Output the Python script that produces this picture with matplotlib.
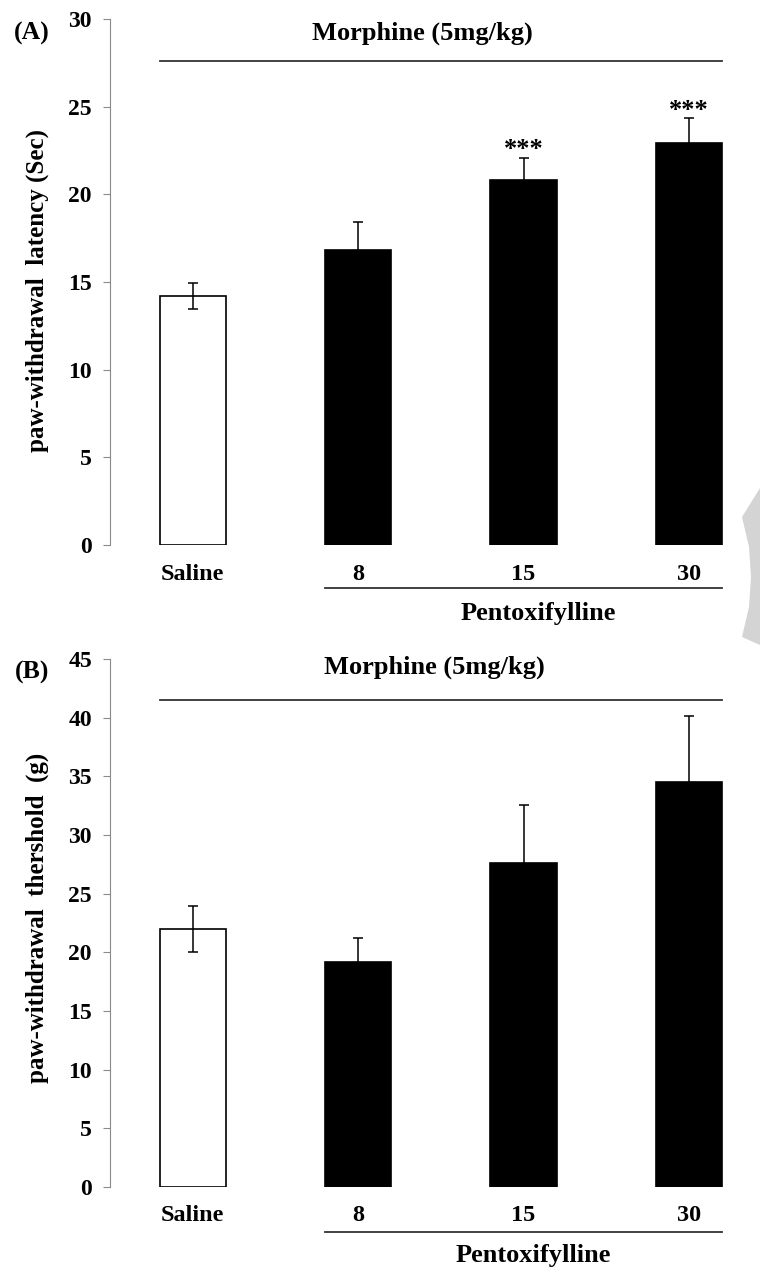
import matplotlib
matplotlib.use('Agg')
import matplotlib.pyplot as plt
from matplotlib.patches import Polygon

# data
groups = ['Saline', '8', '15', '30']
bar_colors = ['white', 'black', 'black', 'black']
latency_mean = [14.2, 16.8, 20.8, 22.9]
latency_sem = [0.73, 1.65, 1.3, 1.45]
latency_sig = ['', '', '***', '***']
threshold_mean = [22.0, 19.15, 27.6, 34.5]
threshold_sem = [1.95, 2.05, 4.95, 5.6]
threshold_sig = ['', '', '', '']

plt.rcParams['font.family'] = ['Liberation Serif', 'DejaVu Serif']
plt.rcParams['font.weight'] = 'bold'

W, H = 760, 1268
fig = plt.figure(figsize=(W / 100, H / 100), dpi=100)


def box(x0, y0, x1, y1):
    """ pixel box (top-left origin) -> figure fraction rect """
    return [x0 / W, 1 - y1 / H, (x1 - x0) / W, (y1 - y0) / H]


def panel(rect, means, sems, sig, ymax, title_y, title_x, morph_y, pent_line_y,
          pent_y, pent_x, pad):
    ax = fig.add_axes(rect)
    x = list(range(len(groups)))
    ax.bar(x, means, width=0.4, color=bar_colors, edgecolor='black',
           linewidth=1.2, zorder=2)
    ax.errorbar(x, means, yerr=sems, fmt='none', ecolor='black',
                elinewidth=1.1, capsize=3.5, capthick=1.1, zorder=3)
    for i in x:
        if sig[i]:
            ax.text(i, means[i] + sems[i] + ymax * 0.002, sig[i], ha='center',
                    va='baseline', fontsize=19)
    ax.set_xlim(-0.5, 3.3)
    ax.set_ylim(0, ymax)
    ax.set_yticks(range(0, ymax + 1, 5))
    ax.set_xticks(x)
    ax.set_xticklabels(groups, fontsize=17.5)
    for s in ['top', 'right', 'bottom']:
        ax.spines[s].set_visible(False)
    ax.spines['left'].set_color('#8a8a8a')
    ax.tick_params(axis='y', direction='out', length=5, color='#8a8a8a',
                   labelsize=17, pad=8)
    ax.tick_params(axis='x', length=0, pad=pad)
    # group lines and labels
    ax.plot([-0.2, 3.2], [morph_y, morph_y], color='#333333', lw=1.3,
            clip_on=False)
    ax.text(title_x, title_y, 'Morphine (5mg/kg)', ha='center', va='center',
            fontsize=19)
    ax.plot([0.8, 3.2], [pent_line_y, pent_line_y], color='#333333', lw=1.3,
            clip_on=False)
    ax.text(pent_x, pent_y, 'Pentoxifylline', ha='center', va='center',
            fontsize=19)
    return ax


axA = panel(box(110, 19, 738.6, 545), latency_mean, latency_sem, latency_sig,
            30, 29.2, 1.39, 27.6, -2.44, -3.88, 2.09, 14)
axB = panel(box(110, 659, 738.6, 1187), threshold_mean, threshold_sem,
            threshold_sig, 45, 44.3, 1.46, 41.5, -3.84, -5.8, 2.06, 13)

fig.text(32 / W, 1 - 33 / H, '(A)', ha='center', va='center', fontsize=18.5)
fig.text(32 / W, 1 - 672 / H, '(B)', ha='center', va='center', fontsize=18.5)
fig.text(37 / W, 1 - 291 / H, 'paw-withdrawal  latency (Sec)', rotation=90,
         ha='center', va='center', fontsize=18)
fig.text(37 / W, 1 - 918 / H, 'paw-withdrawal  thershold  (g)', rotation=90,
         ha='center', va='center', fontsize=18)

# grey scan artefact on the right edge
edge = [(742, 517), (749, 547), (751, 577), (749, 607), (742, 637),
        (760, 645), (760, 488)]
fig.patches.append(Polygon([(px / W, 1 - py / H) for px, py in edge],
                           closed=True, transform=fig.transFigure,
                           facecolor='#d4d4d4', edgecolor='none'))

fig.savefig('out.png', dpi=100)
